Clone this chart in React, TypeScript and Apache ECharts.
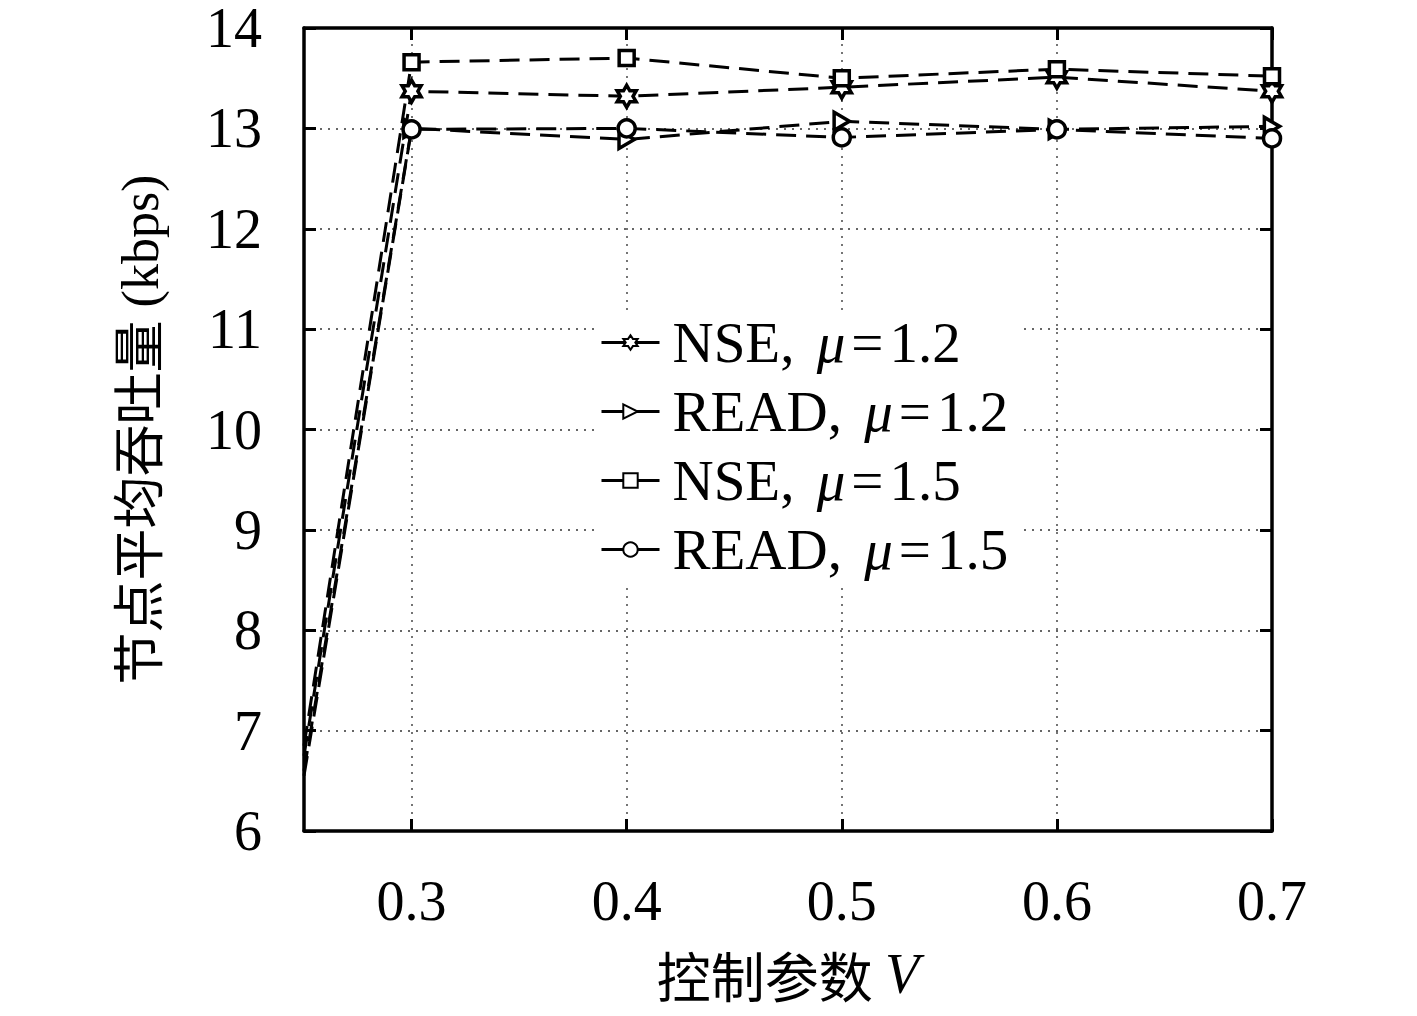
import React, { useEffect, useRef } from "react";
import * as echarts from "echarts";

const xValues = [0.25, 0.3, 0.4, 0.5, 0.6, 0.7];
const nse12 = [6.75, 13.37, 13.32, 13.41, 13.51, 13.37];
const read12 = [6.6, 13.0, 12.89, 13.07, 12.99, 13.02];
const nse15 = [6.85, 13.66, 13.7, 13.5, 13.59, 13.52];
const read15 = [6.55, 12.99, 13.0, 12.91, 12.99, 12.9];
const xTicks = [0.3, 0.4, 0.5, 0.6, 0.7];
const seriesNames = ["NSE, μ=1.2", "READ, μ=1.2", "NSE, μ=1.5", "READ, μ=1.5"];

const STAR =
  "path://M10,0L12.89,5L18.66,5L15.77,10L18.66,15L12.89,15L10,20L7.11,15L1.34,15L4.23,10L1.34,5L7.11,5Z";
const TRI = "path://M0,0L17,10L0,20Z";

const SERIF = "'Liberation Serif', 'Noto Sans CJK SC', serif";

export default function App() {
  const ref = useRef<HTMLDivElement>(null);
  useEffect(() => {
    if (!ref.current) return;
    const chart = echarts.init(ref.current, null, { renderer: "svg" });
    const mk = (name: string, ys: number[], symbol: string, size: number) => ({
      name,
      type: "line",
      data: xValues.map((x, i) =>
        i === 0 ? { value: [x, ys[i]], symbol: "none" } : { value: [x, ys[i]] }
      ),
      symbol,
      symbolSize: size,
      symbolKeepAspect: true,
      showAllSymbol: true,
      clip: true,
      lineStyle: { color: "#000", width: 3, type: [20, 10] },
      itemStyle: { color: "#fff", borderColor: "#000", borderWidth: 3.5 },
      z: 3,
    });
    const axisCommonX = {
      type: "value",
      min: 0.25,
      max: 0.7,
      axisLine: { show: true, onZero: false, lineStyle: { color: "#000", width: 3.5 } },
      axisTick: {
        show: true,
        inside: true,
        length: 12,
        customValues: xTicks,
        lineStyle: { color: "#000", width: 3 },
      },
    };
    const axisCommonY = {
      type: "value",
      min: 6,
      max: 14,
      interval: 1,
      axisLine: { show: true, onZero: false, lineStyle: { color: "#000", width: 3.5 } },
      axisTick: { show: true, inside: true, length: 12, lineStyle: { color: "#000", width: 3 } },
    };
    chart.setOption({
      animation: false,
      backgroundColor: "#fff",
      grid: { left: 304, right: 145, top: 24, bottom: 185 },
      xAxis: [
        {
          ...axisCommonX,
          position: "bottom",
          name: "控制参数 {i|V}",
          nameLocation: "middle",
          nameGap: 114,
          nameTextStyle: {
            fontSize: 54,
            lineHeight: 58,
            color: "#000",
            fontFamily: "'Noto Sans CJK SC', sans-serif",
            rich: {
              i: { fontSize: 56, lineHeight: 58, fontStyle: "italic", fontFamily: SERIF, color: "#000" },
            },
          },
          axisLabel: {
            show: true,
            customValues: xTicks,
            margin: 42,
            fontSize: 56,
            color: "#000",
            fontFamily: SERIF,
            formatter: (v: number) => v.toFixed(1),
          },
          splitLine: {
            show: true,
            lineStyle: { color: "#666", width: 1.8, type: [2, 6] },
          },
        },
        {
          ...axisCommonX,
          position: "top",
          axisLabel: { show: false },
          splitLine: { show: false },
        },
      ],
      yAxis: [
        {
          ...axisCommonY,
          position: "left",
          name: "节点平均吞吐量 (kbps)",
          nameLocation: "middle",
          nameRotate: 90,
          nameGap: 138,
          nameTextStyle: {
            fontSize: 52,
            color: "#000",
            fontFamily: "'Liberation Serif', 'Noto Sans CJK SC', serif",
          },
          axisLabel: {
            show: true,
            margin: 42,
            fontSize: 56,
            lineHeight: 40,
            color: "#000",
            fontFamily: SERIF,
          },
          splitLine: {
            show: true,
            lineStyle: { color: "#666", width: 1.8, type: [2, 6] },
          },
        },
        {
          ...axisCommonY,
          position: "right",
          axisLabel: { show: false },
          splitLine: { show: false },
        },
      ],
      legend: {
        orient: "vertical",
        left: 596,
        top: 310,
        itemWidth: 58,
        itemHeight: 18,
        itemGap: 12,
        backgroundColor: "#fff",
        padding: [4, 10, 4, 4],
        data: seriesNames,
        lineStyle: { type: "solid", width: 3 },
        formatter: (name: string) => {
          const [a, b] = name.split("μ");
          const [, num] = b.split("=");
          return `{t|${a}}{i|μ}{e|=}{t|${num}}`;
        },
        textStyle: {
          color: "#000",
          fontFamily: SERIF,
          fontSize: 57,
          lineHeight: 56,
          padding: [0, 0, 0, 8],
          rich: {
            t: { fontSize: 57, fontFamily: SERIF, color: "#000", lineHeight: 56 },
            e: { fontSize: 57, fontFamily: SERIF, color: "#000", lineHeight: 56, padding: [0, 6, 0, 6] },
            i: { fontSize: 57, fontFamily: SERIF, fontStyle: "italic", color: "#000", lineHeight: 56, padding: [0, 0, 0, 8] },
          },
        },
      },
      series: [
        mk(seriesNames[0], nse12, STAR, 22),
        mk(seriesNames[1], read12, TRI, 18),
        mk(seriesNames[2], nse15, "rect", 15),
        mk(seriesNames[3], read15, "circle", 17),
      ],
    });
    return () => chart.dispose();
  }, []);
  return (
    <div
      ref={ref}
      style={{ position: "fixed", left: 0, top: 0, width: 1417, height: 1016, background: "#fff" }}
    />
  );
}
